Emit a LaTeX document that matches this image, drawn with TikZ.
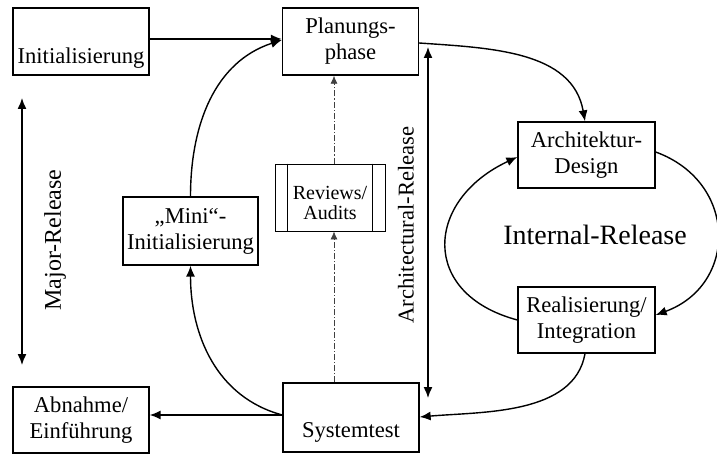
\documentclass[tikz,border=0pt]{standalone}
\usepackage{fontspec}
\setmainfont{Liberation Serif}
\usetikzlibrary{arrows.meta}
\begin{document}
\begin{tikzpicture}[x=1pt,y=1pt,
  box/.style={draw, line width=1.3pt, inner sep=0pt, align=center,
    font=\fontsize{22.6}{26}\selectfont},
  conn/.style={line width=1.4pt, -{Latex[length=11pt,width=9pt]}},
  biconn/.style={line width=1.4pt,
    {Latex[length=11pt,width=9pt]}-{Latex[length=11pt,width=9pt]}},
  review/.style={line width=0.7pt, draw=black!75,
    dash pattern=on 6pt off 2pt on 1.2pt off 2pt,
    -{Latex[length=8pt,width=7pt]}},
  lbl/.style={inner sep=0pt, font=\fontsize{22.6}{26}\selectfont}]
\useasboundingbox (0,0) rectangle (717,-454);

% process boxes
\node[box, minimum width=136, minimum height=67] (init) at (81,-41.5) {};
\node[lbl] (inittxt) at (81,-58.5) {Initialisierung};
\node[box, minimum width=136, minimum height=67] (plan) at (350.5,-41.5) {Planungs-\\phase};
\node[box, minimum width=135, minimum height=68] (mini) at (190.5,-231) {„Mini“-\\Initialisierung};
\node[box, minimum width=136, minimum height=66] (abn) at (81,-420) {Abnahme/\\Einführung};
\node[box, minimum width=136, minimum height=69] (sys) at (351,-417.5) {};
\node[lbl] (systxt) at (351,-432) {Systemtest};
\node[box, minimum width=137, minimum height=66] (arch) at (586.5,-155) {Architektur-\\Design};
\node[box, minimum width=137, minimum height=66] (real) at (586.5,-320) {Realisierung/\\Integration};

% reviews box with double side bars
\node[draw, line width=0.8pt, inner sep=0pt, minimum width=110, minimum height=67] (rev) at (330,-197.5) {};
\draw[line width=0.8pt] ([xshift=13]rev.north west) -- ([xshift=13]rev.south west);
\draw[line width=0.8pt] ([xshift=-13]rev.north east) -- ([xshift=-13]rev.south east);
\node[lbl, align=center, font=\fontsize{20}{20}\selectfont] (revtxt) at (330,-203) {Reviews/\\Audits};

\node[lbl, font=\fontsize{28}{30}\selectfont] (internal) at (595,-235) {Internal-Release};

% main flow
\draw[conn] ([yshift=2.5]init.east) -- ([yshift=2.5]plan.west);
\draw[conn] (mini.north) to[out=90,in=198] ([yshift=1.5]plan.west);
\draw[conn] ([yshift=2.5]sys.west) -- ([yshift=5]abn.east);
\draw[conn] ([yshift=2.5]sys.west) to[out=165,in=-90] (mini.south);

% review feedback
\draw[review] ([xshift=4]rev.north) -- ([xshift=4]rev.north |- plan.south);
\draw[review] ([xshift=4]rev.south |- sys.north) -- ([xshift=4]rev.south);

% release spans
\coordinate (majtop) at (22,-98);
\coordinate (majbot) at (22,-365);
\draw[biconn] (majtop) -- (majbot);
\node[lbl, rotate=90, font=\fontsize{24}{26}\selectfont] (majlbl) at (55,-240) {Major-Release};

\coordinate (archtop) at (428,-47);
\coordinate (archbot) at (428,-398);
\draw[biconn] (archtop) -- (archbot);
\node[lbl, rotate=90] (archlbl) at (406,-225) {Architectural-Release};

% internal release cycle
\draw[conn] ([yshift=-1.5]plan.east) to[out=-4,in=100] ([xshift=-1.5]arch.north);
\draw[conn] ([yshift=3]arch.east) to[out=-20,in=20,looseness=1.38] ([yshift=5]real.east);
\draw[conn] (real.west) to[out=165,in=205,looseness=1.6] ([yshift=-2]arch.west);
\draw[conn] ([xshift=-1.5]real.south) to[out=-100,in=5,looseness=0.9] ([yshift=0.5]sys.east);
\end{tikzpicture}
\end{document}
